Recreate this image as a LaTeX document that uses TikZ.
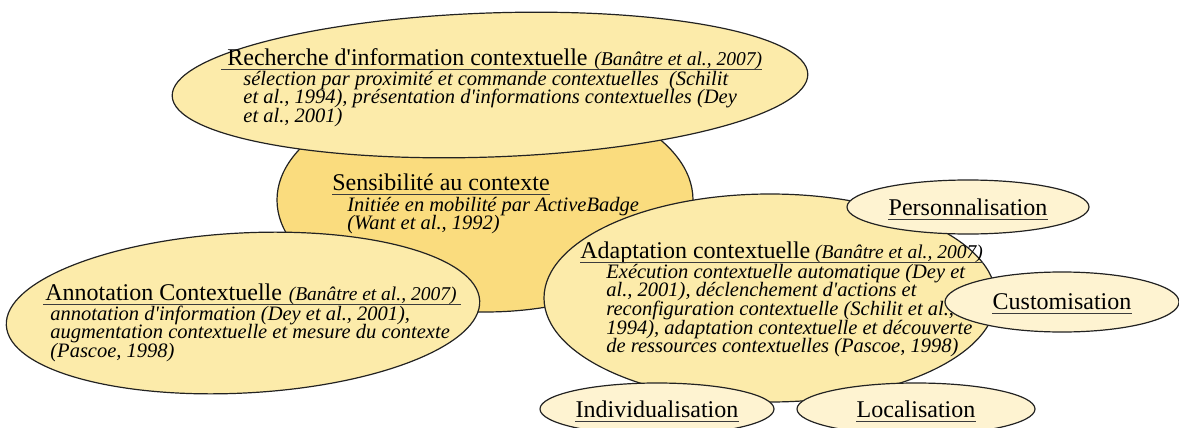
\documentclass[tikz,border=0pt]{standalone}
\usepackage{fontspec}
\setmainfont{Liberation Serif}
\usetikzlibrary{shapes.geometric}
\definecolor{fillA}{HTML}{FCEBAA}
\definecolor{fillS}{HTML}{FADC7E}
\definecolor{fillP}{HTML}{FEF3D1}
\definecolor{edgec}{HTML}{222222}
\definecolor{ulc}{HTML}{3C3C3C}
\newcommand\qs{\textquotesingle}
\newcommand\bodyset{\fontsize{10.25}{9.35}\selectfont\itshape\lineskiplimit=-20pt\lineskip=0pt}
\tikzset{
  ell/.style={ellipse, draw=edgec, line width=0.6pt, inner sep=0pt},
  bigell/.style={ell, fill=fillA},
  senell/.style={ell, fill=fillS},
  smallell/.style={ell, fill=fillP},
  ttl/.style={inner sep=0pt, anchor=base west, font=\fontsize{12}{14}\selectfont},
  cit/.style={inner sep=0pt, anchor=base west, font=\fontsize{9.75}{12}\selectfont\itshape},
  bodytxt/.style={inner sep=0pt, anchor=base west},
  smalltxt/.style={inner sep=0pt, font=\fontsize{12}{14}\selectfont},
  uline/.style={draw=ulc, line width=0.5pt}
}
\begin{document}
\begin{tikzpicture}[x=0.5pt, y=-0.5pt]
\path[use as bounding box] (0,0) rectangle (1179,428);
\clip (0,0) rectangle (1179,428);

% ellipses
\node[senell, minimum width=208pt, minimum height=112pt] (sens) at (485,200) {};
\node[bigell, minimum width=318pt, minimum height=72pt, rotate=2] (rech) at (490,85) {};
\node[bigell, minimum width=237pt, minimum height=80pt, rotate=3] (anno) at (243,313) {};
\node[bigell, minimum width=226pt, minimum height=104pt] (adap) at (770,298) {};
\node[smallell, minimum width=121pt, minimum height=27pt] (perso) at (968,207) {};
\node[smallell, minimum width=117pt, minimum height=30pt] (custo) at (1062,302) {};
\node[smallell, minimum width=117pt, minimum height=26pt] (indiv) at (657,409) {};
\node[smallell, minimum width=119pt, minimum height=26pt] (local) at (916,409) {};

% Recherche
\node[ttl] (rt) at (227,65) {Recherche d\qs information contextuelle};
\node[cit, xshift=3pt] (rc) at (rt.base east) {(Banâtre et al., 2007)};
\draw[uline] ([xshift=-3pt,yshift=-2pt]rt.base west) -- ([yshift=-2pt]rc.base east);
\node[bodytxt] (rb) at (243,85) {\vtop{\bodyset
  \hbox{sélection par proximité et commande contextuelles\ \ (Schilit}
  \hbox{et al., 1994), présentation d\qs informations contextuelles (Dey}
  \hbox{et al., 2001)}}};

% Sensibilite
\node[ttl] (st) at (332,190) {Sensibilité au contexte};
\draw[uline] ([yshift=-2pt]st.base west) -- ([yshift=-2pt]st.base east);
\node[bodytxt] (sb) at (347,211) {\vtop{\bodyset
  \hbox{Initiée en mobilité par ActiveBadge}
  \hbox{(Want et al., 1992)}}};

% Annotation
\node[ttl] (at) at (45,300) {Annotation Contextuelle};
\node[cit, xshift=3pt] (ac) at (at.base east) {(Banâtre et al., 2007)};
\draw[uline] ([xshift=-1pt,yshift=-2pt]at.base west) -- ([xshift=2pt,yshift=-2pt]ac.base east);
\node[bodytxt] (ab) at (50,320) {\vtop{\bodyset
  \hbox{annotation d\qs information (Dey et al., 2001),}
  \hbox{augmentation contextuelle et mesure du contexte}
  \hbox{(Pascoe, 1998)}}};

% Adaptation
\node[ttl] (dt) at (580,258) {Adaptation contextuelle};
\node[cit, xshift=2pt] (dc) at (dt.base east) {(Banâtre et al., 2007)};
\draw[uline] ([yshift=-2pt]dt.base west) -- ([yshift=-2pt]dc.base east);
\node[bodytxt] (db) at (606,278) {\vtop{\bodyset
  \hbox{Exécution contextuelle automatique (Dey et}
  \hbox{al., 2001), déclenchement d\qs actions et}
  \hbox{reconfiguration contextuelle (Schilit et al.,}
  \hbox{1994), adaptation contextuelle et découverte}
  \hbox{de ressources contextuelles (Pascoe, 1998)}}};

% small ellipse labels
\node[smalltxt] (pt) at (perso.center) {Personnalisation};
\draw[uline] ([yshift=-2pt]pt.base west) -- ([yshift=-2pt]pt.base east);
\node[smalltxt] (ct) at (custo.center) {Customisation};
\draw[uline] ([yshift=-2pt]ct.base west) -- ([yshift=-2pt]ct.base east);
\node[smalltxt] (it) at (indiv.center) {Individualisation};
\draw[uline] ([yshift=-2pt]it.base west) -- ([yshift=-2pt]it.base east);
\node[smalltxt] (lt) at (local.center) {Localisation};
\draw[uline] ([yshift=-2pt]lt.base west) -- ([yshift=-2pt]lt.base east);
\end{tikzpicture}
\end{document}
